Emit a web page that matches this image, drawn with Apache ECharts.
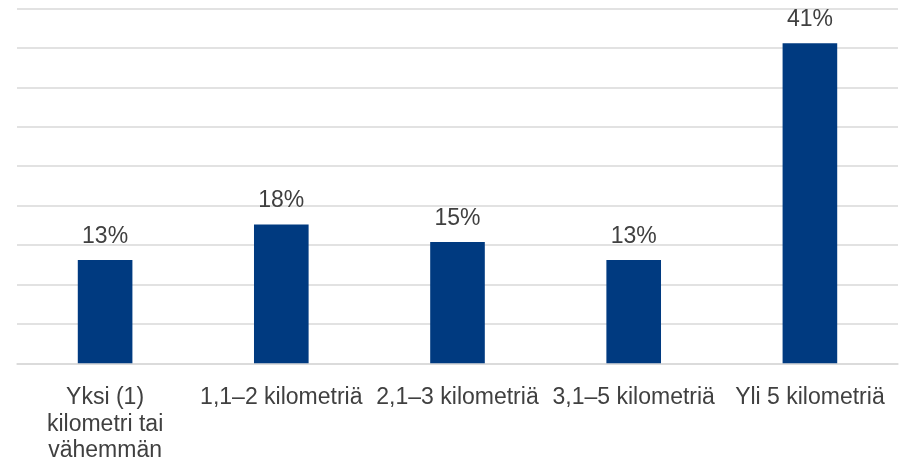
<!DOCTYPE html>
<html>
<head>
<meta charset="utf-8">
<script src="https://cdn.jsdelivr.net/npm/echarts@6/dist/echarts.min.js"></script>
<style>html,body{margin:0;padding:0;background:#fff}#c{width:900px;height:459px}</style>
</head>
<body>
<div id="c"></div>
<script>
const categories = ['Yksi (1)\nkilometri tai\nvähemmän', '1,1–2 kilometriä', '2,1–3 kilometriä', '3,1–5 kilometriä', 'Yli 5 kilometriä'];
const values = [13.1, 17.6, 15.4, 13.1, 40.6];
const yMax = 45;
const yInterval = 5;

const chart = echarts.init(document.getElementById('c'), null, {renderer: 'canvas'});
chart.setOption({
  animation: false,
  backgroundColor: '#ffffff',
  grid: {left: 17, right: 2, top: 8.5, bottom: 95.7, containLabel: false, outerBoundsMode: 'none'},
  xAxis: {
    type: 'category',
    data: categories,
    axisLine: {show: true, lineStyle: {color: '#d9d9d9', width: 1.5}},
    axisTick: {show: false},
    axisLabel: {
      interval: 0,
      margin: 21,
      color: '#404040',
      fontFamily: 'Liberation Sans, Arial, sans-serif',
      fontSize: 23,
      lineHeight: 26.7
    }
  },
  yAxis: {
    type: 'value',
    min: 0,
    max: yMax,
    interval: yInterval,
    axisLine: {show: false},
    axisTick: {show: false},
    axisLabel: {show: false},
    splitLine: {show: true, lineStyle: {color: '#d9d9d9', width: 1.5}}
  },
  series: [{
    type: 'bar',
    data: values,
    barWidth: '31%',
    itemStyle: {color: '#003a80'},
    label: {
      show: true,
      position: 'top',
      distance: 12,
      color: '#404040',
      fontFamily: 'Liberation Sans, Arial, sans-serif',
      fontSize: 23,
      formatter: p => Math.round(p.value) + '%'
    }
  }]
});
</script>
</body>
</html>
